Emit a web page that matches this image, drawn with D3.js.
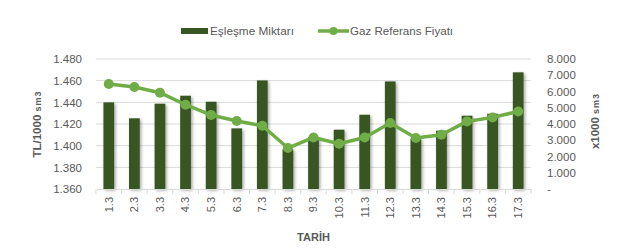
<!DOCTYPE html>
<html>
<head>
<meta charset="utf-8">
<script src="https://cdn.jsdelivr.net/npm/d3@7"></script>
<style>
  body { margin: 0; background: #fff; }
  text { font-family: "Liberation Sans", Arial, sans-serif; }
</style>
</head>
<body>
<svg id="drawing_region"></svg>
<script>
// dates on the x axis
const categories = ['1.3','2.3','3.3','4.3','5.3','6.3','7.3','8.3','9.3','10.3','11.3','12.3','13.3','14.3','15.3','16.3','17.3'];
// Eşleşme Miktarı (x1000 sm3, right axis)
const matchVolume = [5330, 4350, 5250, 5740, 5370, 3730, 6680, 2450, 3200, 3650, 4570, 6620, 3100, 3590, 4510, 4630, 7180];
// Gaz Referans Fiyatı (TL/1000 sm3, left axis)
const refPrice = [1.4569, 1.4542, 1.4489, 1.4378, 1.4283, 1.4228, 1.4184, 1.3978, 1.4076, 1.4018, 1.4076, 1.4209, 1.4071, 1.4101, 1.4224, 1.4261, 1.4316];
const leftTicks = [1.36, 1.38, 1.40, 1.42, 1.44, 1.46, 1.48];
const rightTicks = [0, 1000, 2000, 3000, 4000, 5000, 6000, 7000, 8000];

const config = {
    width: 626,
    height: 249,
    margin: {top: 59, right: 95, bottom: 60, left: 96}
};

const svg = d3.select('#drawing_region')
    .attr('width', config.width)
    .attr('height', config.height);

const inner_width = config.width - config.margin.left - config.margin.right;
const inner_height = config.height - config.margin.top - config.margin.bottom;

const chart = svg.append('g')
    .attr('transform', `translate(${config.margin.left}, ${config.margin.top})`);

const xscale = d3.scaleBand()
    .domain(categories)
    .range([0, inner_width]);

const yleft = d3.scaleLinear()
    .domain([1.36, 1.48])
    .range([inner_height, 0]);

const yright = d3.scaleLinear()
    .domain([0, 8000])
    .range([inner_height, 0]);

const fmtLeft = d => d3.format('.3f')(d).replace(',', '.');
const fmtRight = d => d === 0 ? '-' : d3.format(',.0f')(d).replace(/,/g, '.');

// drop shadow like the spreadsheet bars
const defs = svg.append('defs');
const shadow = defs.append('filter').attr('id', 'shadow')
    .attr('x', '-50%').attr('y', '-10%').attr('width', '200%').attr('height', '130%');
shadow.append('feDropShadow')
    .attr('dx', 1.5).attr('dy', 1.5).attr('stdDeviation', 1.5)
    .attr('flood-color', '#000').attr('flood-opacity', 0.35);

// gridlines
chart.append('g')
    .selectAll('line')
    .data(leftTicks.slice(1))
    .join('line')
    .attr('x1', 0)
    .attr('x2', inner_width)
    .attr('y1', d => yleft(d))
    .attr('y2', d => yleft(d))
    .attr('stroke', '#d9d9d9')
    .attr('stroke-width', 1);

// bars
const barWidth = xscale.bandwidth() * 0.42;
chart.append('g')
    .selectAll('rect')
    .data(matchVolume)
    .join('rect')
    .attr('x', (d, i) => xscale(categories[i]) + (xscale.bandwidth() - barWidth) / 2)
    .attr('y', d => yright(d))
    .attr('width', barWidth)
    .attr('height', d => inner_height - yright(d))
    .attr('fill', '#375623')
    .attr('filter', 'url(#shadow)');

// x axis
const xaxis_group = chart.append('g')
    .attr('transform', `translate(0, ${inner_height})`)
    .call(d3.axisBottom(xscale).tickSize(0).tickPadding(0));
xaxis_group.select('.domain').attr('stroke', '#d9d9d9');
xaxis_group.selectAll('text')
    .attr('transform', 'rotate(-90)')
    .attr('text-anchor', 'end')
    .attr('x', -8)
    .attr('y', 0)
    .attr('dy', '0.35em')
    .attr('fill', '#595959')
    .style('font-size', '11px');
// band separators
xaxis_group.append('g')
    .selectAll('line')
    .data(categories.concat(['end']))
    .join('line')
    .attr('x1', (d, i) => i * xscale.bandwidth())
    .attr('x2', (d, i) => i * xscale.bandwidth())
    .attr('y1', 0)
    .attr('y2', 5)
    .attr('stroke', '#d9d9d9');

// left axis
const yaxis_left = chart.append('g')
    .call(d3.axisLeft(yleft).tickValues(leftTicks).tickFormat(fmtLeft).tickSize(0).tickPadding(14));
yaxis_left.select('.domain').remove();
yaxis_left.selectAll('text').attr('fill', '#595959').style('font-size', '11.5px');

// right axis
const yaxis_right = chart.append('g')
    .attr('transform', `translate(${inner_width}, 0)`)
    .call(d3.axisRight(yright).tickValues(rightTicks).tickFormat(fmtRight).tickSize(0).tickPadding(16));
yaxis_right.select('.domain').remove();
yaxis_right.selectAll('text').attr('fill', '#595959').style('font-size', '11.5px');

// price line
const line = d3.line()
    .x((d, i) => xscale(categories[i]) + xscale.bandwidth() / 2)
    .y(d => yleft(d));

chart.append('path')
    .attr('d', line(refPrice))
    .attr('fill', 'none')
    .attr('stroke', '#70ad47')
    .attr('stroke-width', 3.5)
    .attr('stroke-linejoin', 'round');

chart.append('g')
    .selectAll('circle')
    .data(refPrice)
    .join('circle')
    .attr('cx', (d, i) => xscale(categories[i]) + xscale.bandwidth() / 2)
    .attr('cy', d => yleft(d))
    .attr('r', 5)
    .attr('fill', '#70ad47');

// axis titles
const midY = config.margin.top + inner_height / 2;
const leftTitle = svg.append('text')
    .attr('transform', `translate(41, ${midY}) rotate(-90)`)
    .attr('text-anchor', 'middle')
    .attr('fill', '#595959')
    .style('font-weight', 'bold')
    .style('font-size', '11.5px');
leftTitle.append('tspan').text('TL/1000 ');
leftTitle.append('tspan').style('font-size', '9px').attr('letter-spacing', 1).text('sm3');

const rightTitle = svg.append('text')
    .attr('transform', `translate(599, ${midY - 3}) rotate(-90)`)
    .attr('text-anchor', 'middle')
    .attr('fill', '#595959')
    .style('font-weight', 'bold')
    .style('font-size', '11.5px');
rightTitle.append('tspan').text('x1000 ');
rightTitle.append('tspan').style('font-size', '9px').attr('letter-spacing', 1).text('sm3');

svg.append('text')
    .attr('x', config.margin.left + inner_width / 2)
    .attr('y', 241)
    .attr('text-anchor', 'middle')
    .attr('fill', '#595959')
    .style('font-weight', 'bold')
    .style('font-size', '11px')
    .text('TARİH');

// legend
const legend = svg.append('g');
legend.append('rect')
    .attr('x', 181).attr('y', 28).attr('width', 27).attr('height', 6)
    .attr('fill', '#375623');
legend.append('text')
    .attr('x', 210).attr('y', 31).attr('dy', '0.35em')
    .attr('fill', '#595959').style('font-size', '11.8px')
    .text('Eşleşme Miktarı');
legend.append('line')
    .attr('x1', 318).attr('x2', 349).attr('y1', 31).attr('y2', 31)
    .attr('stroke', '#70ad47').attr('stroke-width', 3.5);
legend.append('circle')
    .attr('cx', 333.5).attr('cy', 31).attr('r', 4)
    .attr('fill', '#70ad47');
legend.append('text')
    .attr('x', 350).attr('y', 31).attr('dy', '0.35em')
    .attr('fill', '#595959').style('font-size', '11.6px')
    .text('Gaz Referans Fiyatı');
</script>
</body>
</html>
